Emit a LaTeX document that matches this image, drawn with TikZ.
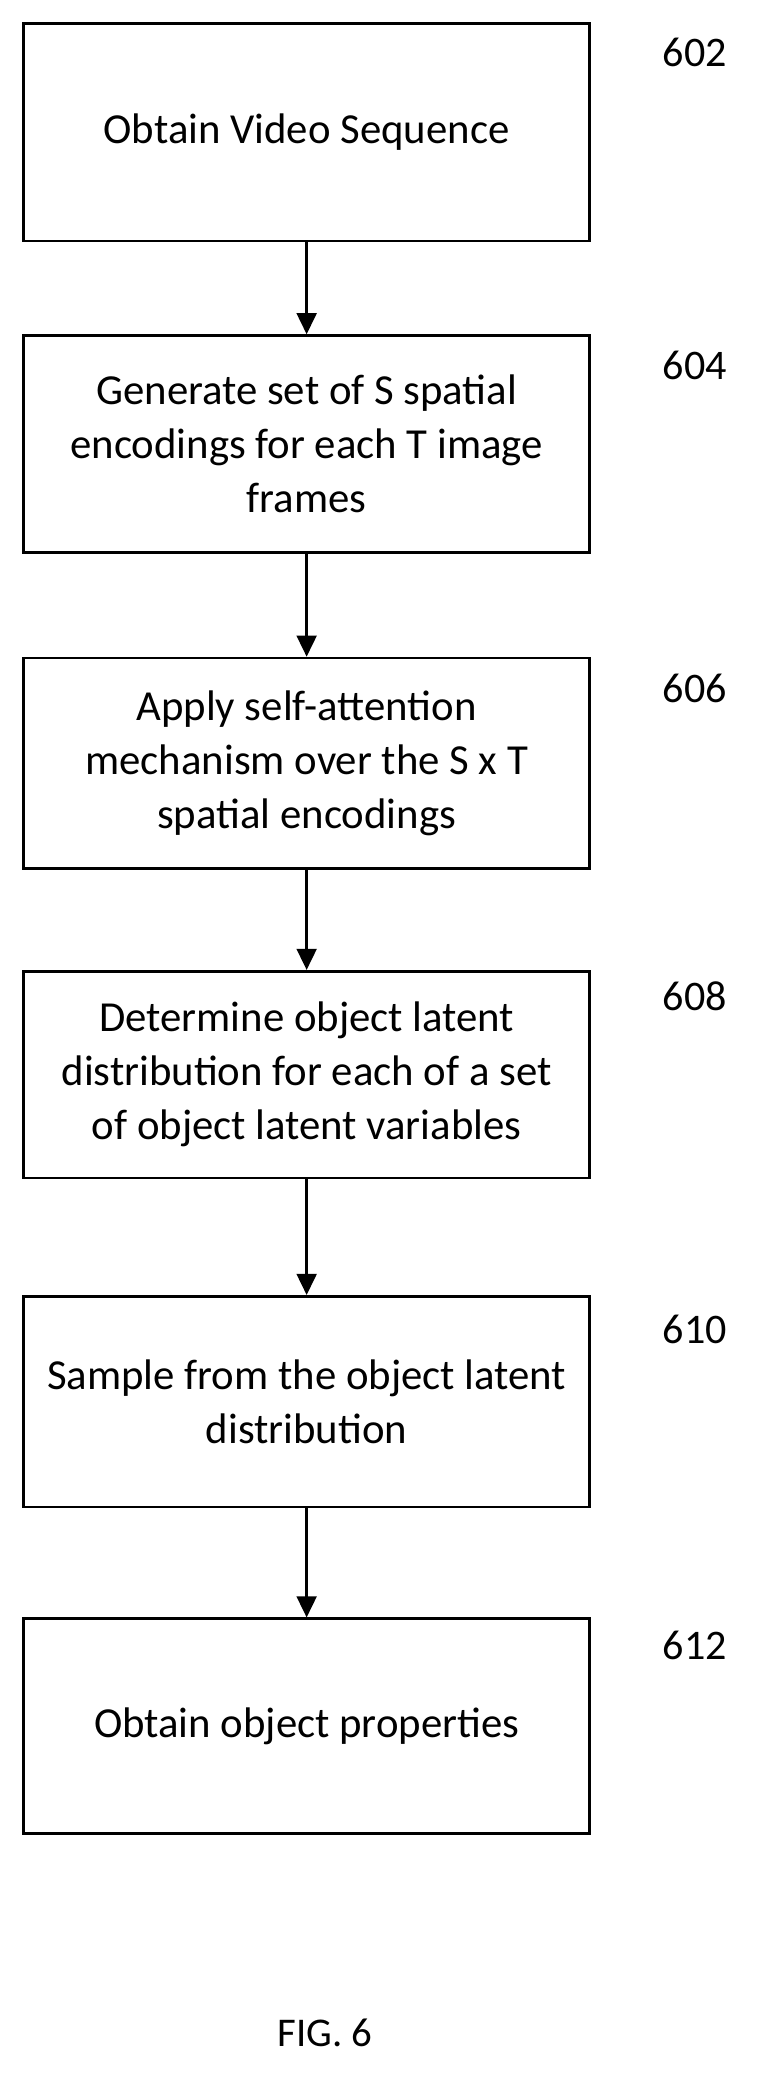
\documentclass[tikz,border=0pt]{standalone}
\usepackage{fontspec}
\setmainfont{Carlito}
\usetikzlibrary{arrows.meta}
\begin{document}
\begin{tikzpicture}[x=1pt,y=-1pt,
 box/.style={draw,line width=2pt,minimum width=430pt,align=center,font=\fontsize{32.5}{41}\selectfont,inner sep=0pt},
 lab/.style={font=\fontsize{32}{36}\selectfont,anchor=west},
 arr/.style={-{Triangle[length=16pt,width=15pt]},line width=2pt}]
\useasboundingbox (0,0) rectangle (581,1582);
\node[box,minimum height=165pt] (b1) at (233,100.5) {Obtain Video Sequence};
\node[box,minimum height=165pt] (b2) at (233,337.5) {Generate set of S spatial\\encodings for each T image\\frames};
\node[box,minimum height=160pt] (b3) at (233,580) {Apply self-attention\\mechanism over the S x T\\spatial encodings};
\node[box,minimum height=157pt] (b4) at (233,816.5) {Determine object latent\\distribution for each of a set\\of object latent variables};
\node[box,minimum height=160pt] (b5) at (233,1065) {Sample from the object latent\\distribution};
\node[box,minimum height=163pt] (b6) at (233,1311.5) {Obtain object properties};
\node[lab] (l1) at (500,40) {602};
\node[lab] (l2) at (500,278) {604};
\node[lab] (l3) at (500,523) {606};
\node[lab] (l4) at (500,757) {608};
\node[lab] (l5) at (500,1010) {610};
\node[lab] (l6) at (500,1250) {612};
\node[font=\fontsize{31}{34}\selectfont] (fig) at (247,1545) {FIG. 6};
\draw[arr] (b1) -- (b2);
\draw[arr] (b2) -- (b3);
\draw[arr] (b3) -- (b4);
\draw[arr] (b4) -- (b5);
\draw[arr] (b5) -- (b6);
\end{tikzpicture}
\end{document}
